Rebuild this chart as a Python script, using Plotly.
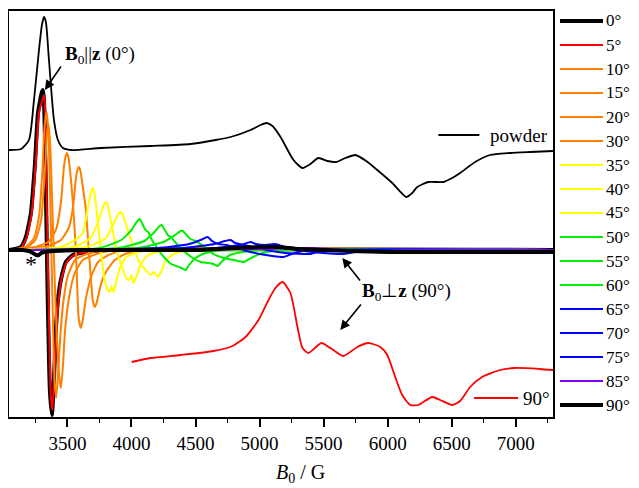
import plotly.graph_objects as go

# ---------------- data (field in G, intensity in arbitrary units) ----------------
angle_labels = ["0°", "5°", "10°", "15°", "20°", "30°", "35°", "40°", "45°",
                "50°", "55°", "60°", "65°", "70°", "75°", "85°", "90°"]
angle_colors = ["#000000", "#FF0000", "#FF8000", "#FF8000", "#FF8000", "#FF8000",
                "#FFFF00", "#FFFF00", "#FFFF00", "#00EE00", "#00EE00", "#00EE00",
                "#0000FF", "#0000FF", "#0000FF", "#8000FF", "#000000"]
angle_widths = [4, 2, 2, 2, 2, 2, 2, 2, 2, 2, 2, 2, 2, 2, 2, 2, 4]

b_00 = [3044, 3137, 3176, 3215, 3247, 3270, 3301, 3309, 3317, 3332, 3345, 3363, 3379, 3395, 3410, 3426, 3449, 3488, 3543, 3650, 3800, 7291]
i_00 = [0, 3, 13, 37, 87, 137, 158, 160, 150, 60, -40, -140, -165, -130, -80, -50, -30, -12, -5, -2, 0, 0]

b_05 = [3044, 3137, 3180, 3222, 3253, 3278, 3309, 3317, 3325, 3340, 3355, 3370, 3383, 3398, 3415, 3432, 3455, 3495, 3550, 3650, 3800, 7291]
i_05 = [0, 2, 12, 37, 87, 137, 152, 155, 145, 40, -60, -145, -160, -125, -80, -50, -28, -12, -5, -2, 0, 0]

b_10 = [3044, 3176, 3240, 3280, 3305, 3322, 3338, 3352, 3368, 3385, 3400, 3412, 3425, 3445, 3470, 3505, 3560, 3650, 3800, 7291]
i_10 = [0, 3, 12, 35, 80, 125, 138, 118, 40, -60, -130, -148, -128, -85, -50, -25, -10, -4, 0, 0]

b_15 = [3044, 3176, 3250, 3295, 3320, 3340, 3352, 3366, 3388, 3415, 3437, 3449, 3463, 3482, 3512, 3552, 3620, 3750, 3900, 7291]
i_15 = [0, 2, 10, 30, 70, 115, 126, 105, 20, -80, -128, -138, -120, -80, -48, -25, -10, -3, 0, 0]

b_20 = [3044, 3250, 3350, 3410, 3449, 3472, 3485, 3496, 3507, 3522, 3543, 3566, 3588, 3605, 3620, 3645, 3690, 3740, 3820, 3950, 7291]
i_20 = [0, 3, 8, 20, 47, 82, 93, 97, 93, 78, 47, 0, -68, -78, -70, -48, -25, -12, -5, 0, 0]

b_30 = [3044, 3350, 3450, 3510, 3543, 3565, 3578, 3589, 3600, 3615, 3644, 3667, 3698, 3714, 3728, 3760, 3800, 3870, 3950, 4100, 7291]
i_30 = [0, 4, 10, 22, 42, 70, 80, 83, 80, 68, 40, 0, -50, -57, -53, -35, -22, -10, -4, 0, 0]

b_35 = [3044, 3450, 3560, 3620, 3660, 3685, 3698, 3712, 3740, 3761, 3790, 3815, 3830, 3845, 3860, 3880, 3910, 3960, 4050, 4200, 7291]
i_35 = [0, 3, 10, 17, 43, 58, 62, 56, 25, 0, -30, -40, -42, -36, -42, -32, -18, -7, -2, 0, 0]

b_40 = [3044, 3550, 3680, 3740, 3775, 3788, 3800, 3812, 3850, 3880, 3920, 3960, 3985, 4000, 4015, 4035, 4070, 4120, 4200, 4350, 7291]
i_40 = [0, 3, 12, 28, 42, 46, 48, 46, 22, 2, -15, -28, -30, -25, -33, -28, -15, -6, -2, 0, 0]

b_45 = [3044, 3650, 3800, 3860, 3890, 3905, 3917, 3930, 3975, 4015, 4060, 4110, 4150, 4175, 4205, 4230, 4270, 4330, 4450, 7291]
i_45 = [0, 3, 12, 26, 34, 37, 38, 36, 18, 3, -12, -20, -25, -22, -27, -22, -10, -4, 0, 0]

b_50 = [3044, 3750, 3920, 4000, 4040, 4065, 4085, 4110, 4130, 4160, 4200, 4260, 4310, 4350, 4390, 4423, 4450, 4500, 4580, 4700, 7291]
i_50 = [0, 2, 10, 20, 28, 31, 26, 20, 18, 10, 2, -8, -14, -16, -18, -20, -15, -8, -3, 0, 0]

b_55 = [3044, 3900, 4100, 4180, 4220, 4236, 4260, 4290, 4310, 4340, 4400, 4480, 4540, 4600, 4640, 4672, 4710, 4770, 4870, 5000, 7291]
i_55 = [0, 2, 9, 18, 24, 25, 20, 14, 13, 8, 0, -8, -12, -13, -14, -16, -11, -5, -2, 0, 0]

b_60 = [3044, 4050, 4250, 4340, 4385, 4400, 4430, 4460, 4500, 4560, 4640, 4720, 4800, 4875, 4920, 5000, 5100, 5250, 7291]
i_60 = [0, 2, 8, 15, 19, 19, 15, 11, 9, 4, -4, -8, -10, -12, -9, -4, -1, 0, 0]

b_65 = [3044, 4200, 4450, 4540, 4595, 4630, 4680, 4740, 4800, 4900, 5000, 5100, 5187, 5230, 5300, 5400, 7291]
i_65 = [0, 2, 6, 10, 13, 9, 6, 5, 3, -1, -4, -6, -7, -5, -2, 0, 0]

b_70 = [3044, 4400, 4650, 4730, 4774, 4810, 4880, 4950, 5050, 5200, 5350, 5400, 5450, 5550, 7291]
i_70 = [0, 2, 6, 9, 10, 7, 5, 3, 0, -3, -4, -4, -2, 0, 0]

b_75 = [3044, 4550, 4850, 4930, 4970, 5050, 5120, 5200, 5350, 5500, 5650, 5750, 5900, 7291]
i_75 = [0, 1, 5, 8, 6, 5, 6, 3, -1, -3, -4, -2, 0, 0]

b_85 = [3044, 5000, 5400, 5800, 6200, 7291]
i_85 = [0, 1, 2, -1, 0, 0]

b_90 = [3044, 3150, 3200, 3230, 3255, 3275, 3295, 3320, 3400, 3600, 4000, 4500, 4800, 5000, 5150, 5300, 5500, 5700, 6000, 7291]
i_90 = [0, 0, -1, -3, -5, -5, -3, -2, -1, 0, 0, 0, 2, 3, 3, 1, 0, -1, -2, -2]

# powder spectrum (top, black)
b_powder = [3044, 3138, 3200, 3239, 3278, 3301, 3317, 3332, 3356, 3395, 3426, 3465, 3527, 3761, 4150,
            4462, 4657, 4774, 4930, 5008, 5054, 5101, 5164, 5265, 5335, 5397, 5459, 5530, 5600, 5670,
            5748, 5833, 5919, 6036, 6145, 6192, 6231, 6317, 6434, 6504, 6566, 6683, 6800, 6956, 7112, 7291]
i_powder = [100, 101, 110, 150, 200, 225, 233, 228, 190, 130, 110, 102, 100, 102, 104,
            106, 110, 113, 120, 125, 127, 124, 113, 90, 82, 86, 92, 89, 88, 92,
            95, 89, 80, 67, 53, 57, 63, 68, 68, 72, 77, 88, 95, 97, 98, 99]

# 90° powder-like spectrum (bottom, red)
b_red90 = [4002, 4150, 4384, 4641, 4789, 4891, 4992, 5070, 5124, 5179, 5241, 5296, 5335, 5382, 5483,
           5553, 5654, 5763, 5849, 5943, 5997, 6059, 6114, 6176, 6239, 6348, 6410, 6504, 6566, 6644,
           6737, 6878, 6994, 7189, 7291]
i_red90 = [-112, -108, -105, -101, -96, -87, -70, -50, -38, -32, -43, -77, -98, -103, -93,
           -98, -106, -97, -93, -97, -105, -127, -145, -155, -155, -147, -150, -155, -151, -137,
           -127, -120, -118, -119, -120]

tick_vals = [3500, 4000, 4500, 5000, 5500, 6000, 6500, 7000]
x_range = [3044, 7291]
y_range = [-167, 239]

series_b = [b_00, b_05, b_10, b_15, b_20, b_30, b_35, b_40, b_45,
            b_50, b_55, b_60, b_65, b_70, b_75, b_85, b_90]
series_i = [i_00, i_05, i_10, i_15, i_20, i_30, i_35, i_40, i_45,
            i_50, i_55, i_60, i_65, i_70, i_75, i_85, i_90]

FONT = "Liberation Serif, Times New Roman, serif"

# page body adds an 8 px margin, so the figure is made 8 px smaller
OFF = 8
W, H = 639 - OFF, 488 - OFF
M_L, M_T = 1, 11 - OFF
M_R = W - (553 - OFF)
M_B = H - (417 - OFF)
PW, PH = W - M_L - M_R, H - M_T - M_B


def px_to_paper_x(px):
    return (px - OFF - M_L) / PW


def py_to_paper_y(py):
    return (H - M_B - (py - OFF)) / PH


fig = go.Figure()

fig.add_trace(go.Scatter(x=b_powder, y=i_powder, mode="lines", showlegend=False,
                         line=dict(color="#000000", width=1.8, shape="spline", smoothing=0.6)))
fig.add_trace(go.Scatter(x=b_red90, y=i_red90, mode="lines", showlegend=False,
                         line=dict(color="#FF0000", width=1.8, shape="spline", smoothing=0.6)))

for lab, col, w, bx, iy in zip(angle_labels, angle_colors, angle_widths, series_b, series_i):
    fig.add_trace(go.Scatter(x=bx, y=iy, mode="lines", name=lab, showlegend=False,
                             line=dict(color=col, width=w, shape="spline", smoothing=0.5)))

annotations = [
    dict(x=3324, y=160, ax=3458, ay=185, xref="x", yref="y", axref="x", ayref="y",
         text="", showarrow=True, arrowhead=2, arrowsize=1.2, arrowwidth=1.6, arrowcolor="black"),
    dict(x=3754, y=195, xref="x", yref="y", showarrow=False,
         text="<b>B</b><sub>0</sub>||<b>z</b> (0°)", font=dict(size=19, family=FONT, color="black")),
    dict(x=5646, y=-8, ax=5794, ay=-32, xref="x", yref="y", axref="x", ayref="y",
         text="", showarrow=True, arrowhead=2, arrowsize=1.2, arrowwidth=1.6, arrowcolor="black"),
    dict(x=5630, y=-80, ax=5801, ay=-53, xref="x", yref="y", axref="x", ayref="y",
         text="", showarrow=True, arrowhead=2, arrowsize=1.2, arrowwidth=1.6, arrowcolor="black"),
    dict(x=6145, y=-42, xref="x", yref="y", showarrow=False,
         text="<b>B</b><sub>0</sub>⊥<b>z</b> (90°)", font=dict(size=19, family=FONT, color="black")),
    dict(x=3215, y=-14, xref="x", yref="y", showarrow=False, text="*",
         font=dict(size=24, family=FONT, color="black")),
    dict(x=6785, y=115, xref="x", yref="y", showarrow=False, text="powder", xanchor="left",
         font=dict(size=19, family=FONT, color="black")),
    dict(x=7042, y=-148, xref="x", yref="y", showarrow=False, text="90°", xanchor="left",
         font=dict(size=19, family=FONT, color="black")),
    dict(x=px_to_paper_x(300), y=py_to_paper_y(459), xref="paper", yref="paper", showarrow=False,
         yanchor="top", text="<i>B</i><sub>0</sub> / G", font=dict(size=20, family=FONT, color="black")),
]

shapes = [
    dict(type="line", x0=6396, x1=6716, y0=115, y1=115, xref="x", yref="y",
         line=dict(color="black", width=2)),
    dict(type="line", x0=6675, x1=7018, y0=-148, y1=-148, xref="x", yref="y",
         line=dict(color="#FF0000", width=2)),
]

# legend drawn at the right of the frame
for k, (lab, col, w) in enumerate(zip(angle_labels, angle_colors, angle_widths)):
    py = 21 + 24 * k
    shapes.append(dict(type="line", xref="paper", yref="paper",
                       x0=px_to_paper_x(560), x1=px_to_paper_x(603),
                       y0=py_to_paper_y(py), y1=py_to_paper_y(py),
                       line=dict(color=col, width=w)))
    annotations.append(dict(x=px_to_paper_x(604), y=py_to_paper_y(py), xref="paper", yref="paper",
                            xanchor="left", yanchor="middle", showarrow=False, text=lab,
                            font=dict(size=17, family=FONT, color="black")))

fig.update_layout(
    width=W, height=H,
    margin=dict(l=M_L, r=M_R, t=M_T, b=M_B),
    paper_bgcolor="white", plot_bgcolor="white",
    font=dict(family=FONT, size=19, color="black"),
    showlegend=False,
    annotations=annotations,
    shapes=shapes,
    xaxis=dict(range=x_range, tickvals=tick_vals, ticks="outside", ticklen=8, tickwidth=1.5,
               tickcolor="black", showline=True, linecolor="black", linewidth=1.5, mirror=True,
               showgrid=False, zeroline=False, automargin=False,
               tickfont=dict(size=19, family=FONT, color="black"),
               minor=dict(dtick=250, tick0=3250, ticks="outside", ticklen=4, tickwidth=1.2, tickcolor="black")),
    yaxis=dict(range=y_range, showticklabels=False, ticks="", showline=True, linecolor="black",
               linewidth=1.5, mirror=True, showgrid=False, zeroline=False, automargin=False),
)

fig.write_html("out.html")
